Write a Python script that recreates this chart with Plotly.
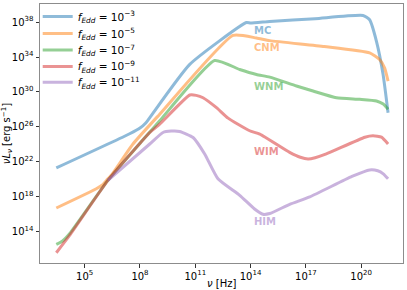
import plotly.graph_objects as go

# ---- data (log10 nu [Hz], log10 nuL_nu [erg/s]) ----
mc_lognu = [3.46, 7.44, 8.0, 8.3, 8.55, 10.7, 13.77, 14.0, 15.04, 17.5, 20.1, 20.46, 20.83, 21.19, 21.46]
mc_logL  = [21.28, 25.2, 25.85, 26.4, 27.1, 33.15, 37.95, 37.9, 38.08, 38.4, 38.76, 38.27, 35.8, 32.0, 27.6]

cnm_lognu = [3.46, 5.63, 6.0, 6.18, 6.5, 7.62, 9.07, 13.05, 14.32, 15.04, 18.0, 20.46, 21.0, 21.27, 21.46]
cnm_logL  = [16.68, 18.89, 19.4, 19.84, 20.6, 24.02, 27.44, 36.48, 36.18, 35.88, 35.2, 34.47, 33.71, 32.75, 31.24]

wnm_lognu = [3.46, 3.8, 4.19, 6.26, 8.16, 9.07, 12.05, 13.41, 14.32, 15.04, 16.49, 17.39, 18.66, 19.92, 20.83, 21.2, 21.46]
wnm_logL  = [12.5, 12.9, 13.76, 19.84, 24.5, 26.68, 33.6, 32.57, 32.0, 31.69, 30.67, 30.1, 29.33, 29.15, 28.96, 28.6, 28.0]

wim_lognu = [3.46, 4.19, 6.26, 8.0, 8.53, 9.07, 10.7, 11.05, 11.42, 12.15, 12.78, 13.95, 14.5, 16.12, 16.7, 17.12, 17.5, 18.11, 20.2, 20.64, 21.1, 21.46]
wim_logL  = [11.55, 13.56, 19.84, 24.1, 25.34, 26.3, 29.64, 29.6, 29.33, 28.19, 26.99, 25.54, 25.16, 23.06, 22.5, 22.31, 22.45, 22.88, 24.8, 24.97, 24.8, 24.02]

him_lognu = [6.26, 8.53, 9.25, 9.7, 10.15, 10.88, 11.51, 12.23, 13.41, 14.2, 14.67, 15.04, 16.12, 17.21, 19.5, 20.46, 20.9, 21.2, 21.46]
him_logL  = [19.84, 24.02, 25.34, 25.5, 25.46, 24.77, 22.88, 20.03, 18.13, 16.6, 15.96, 16.04, 17.1, 17.95, 20.3, 21.05, 20.95, 20.6, 20.03]

legend_names = ["<i>f</i><sub><i>Edd</i></sub> = 10<sup>−3</sup>",
                "<i>f</i><sub><i>Edd</i></sub> = 10<sup>−5</sup>",
                "<i>f</i><sub><i>Edd</i></sub> = 10<sup>−7</sup>",
                "<i>f</i><sub><i>Edd</i></sub> = 10<sup>−9</sup>",
                "<i>f</i><sub><i>Edd</i></sub> = 10<sup>−11</sup>"]
phase_labels = ["MC", "CNM", "WNM", "WIM", "HIM"]
label_logL = [37.0, 35.12, 30.67, 23.18, 15.08]
label_lognu = 14.05

x_tick_exp = [5, 8, 11, 14, 17, 20]
y_tick_exp = [14, 18, 22, 26, 30, 34, 38]

colors = ["#1f77b4", "#ff7f0e", "#2ca02c", "#d62728", "#9467bd"]
label_colors = ["rgba(31,119,180,0.5)", "rgba(255,127,14,0.5)", "rgba(44,160,44,0.5)",
                "rgba(214,39,40,0.5)", "rgba(148,103,189,0.5)"]

series = [(mc_lognu, mc_logL), (cnm_lognu, cnm_logL), (wnm_lognu, wnm_logL),
          (wim_lognu, wim_logL), (him_lognu, him_logL)]

W, H = 407, 290
ML, MR, MT, MB = 40.3, 3.7, 2.5, 27
PW, PH = W - ML - MR, H - MT - MB

legend_ids = ["legend", "legend2", "legend3", "legend4", "legend5"]
legend_px_y = [16, 33, 49.5, 66, 82]

fig = go.Figure()
for (lx, ly), name, c, lid in zip(series, legend_names, colors, legend_ids):
    fig.add_trace(go.Scatter(
        x=[10.0 ** v for v in lx], y=[10.0 ** v for v in ly], mode="lines", name=name,
        line=dict(color=c, width=3, shape="spline", smoothing=0.5), opacity=0.5,
        legend=lid))

for lab, ly, c in zip(phase_labels, label_logL, label_colors):
    fig.add_annotation(x=label_lognu, y=ly, xref="x", yref="y", text="<b>%s</b>" % lab,
                       showarrow=False, xanchor="left", yanchor="middle",
                       font=dict(size=10, color=c, family="DejaVu Sans"))

# axis titles placed as annotations
fig.add_annotation(x=0.5, y=-(276 - (MT + PH)) / PH, xref="paper", yref="paper", yanchor="top",
                   text="<i>ν</i> [Hz]", showarrow=False,
                   font=dict(size=10, color="black", family="DejaVu Sans"))
fig.add_annotation(x=-(ML - 16) / PW, y=0.5, xref="paper", yref="paper", xanchor="right",
                   text="<i>νL</i><sub><i>ν</i></sub> [erg s<sup>−1</sup>]", showarrow=False,
                   textangle=-90, font=dict(size=10, color="black", family="DejaVu Sans"))

axis_common = dict(type="log", showgrid=False, zeroline=False, showline=True,
                   linecolor="#8c8c8c", linewidth=1, mirror=True, ticks="outside",
                   ticklen=3.5, tickwidth=0.8, tickcolor="#333333", automargin=False,
                   tickfont=dict(size=10, color="black", family="DejaVu Sans"))

fig.update_xaxes(range=[2.575, 22.27], tickvals=[10.0 ** e for e in x_tick_exp],
                 ticktext=["10<sup>%d</sup>" % e for e in x_tick_exp], **axis_common)
fig.update_yaxes(range=[10.37, 40.08], tickvals=[10.0 ** e for e in y_tick_exp],
                 ticktext=["10<sup>%d</sup>" % e for e in y_tick_exp], **axis_common)

leg_layout = {}
for lid, py in zip(legend_ids, legend_px_y):
    leg_layout[lid] = dict(x=(38 - ML) / PW, y=1 - (py - MT) / PH, xanchor="left", yanchor="middle",
                           bgcolor="rgba(255,255,255,0)", font=dict(size=10.5, family="DejaVu Sans"),
                           itemwidth=30)

fig.update_layout(
    width=W, height=H,
    margin=dict(l=ML, r=MR, t=MT, b=MB),
    plot_bgcolor="white", paper_bgcolor="white",
    font=dict(family="DejaVu Sans", size=10, color="black"),
    showlegend=True,
    **leg_layout,
)

fig.write_html("out.html", config={"displayModeBar": False},
               post_script="document.body.style.margin='0';document.body.style.overflow='hidden';")
